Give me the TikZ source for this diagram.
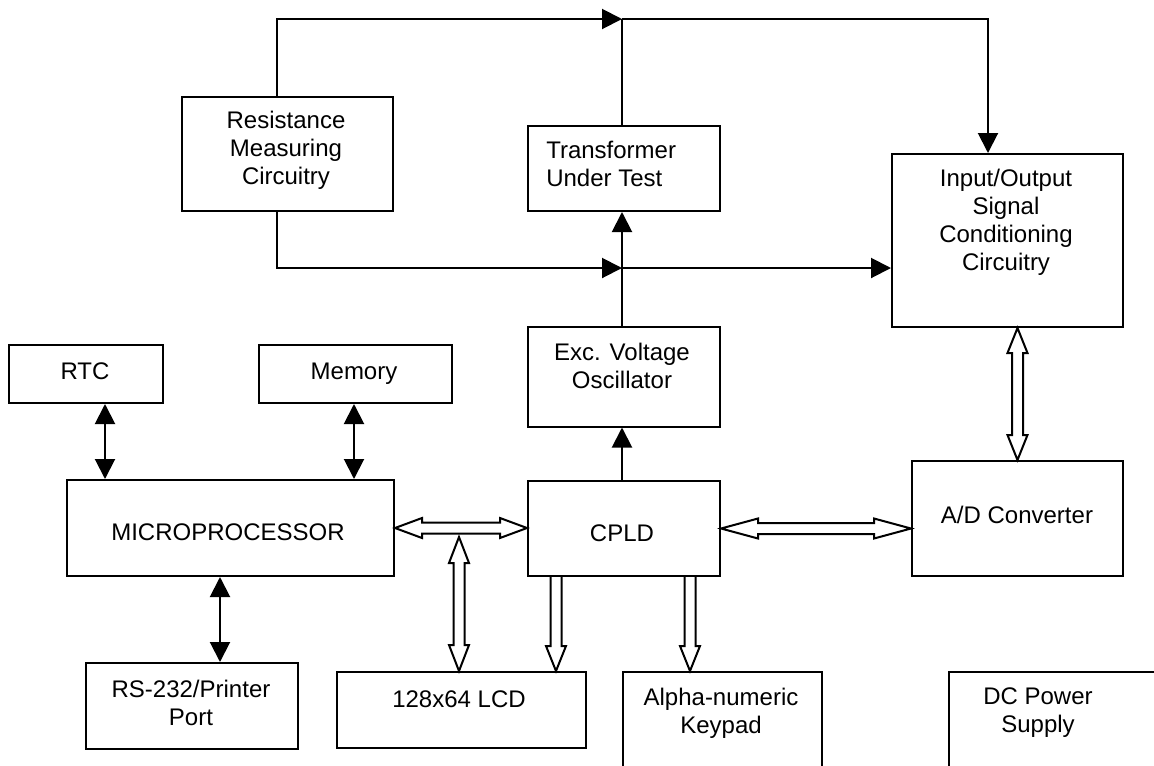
\documentclass[tikz,border=0pt]{standalone}
\usepackage{fontspec}
\setmainfont{Liberation Sans}
\usetikzlibrary{arrows.meta,calc}
\tikzset{
  box/.style={draw, line width=1.5pt, inner sep=0pt},
  txt/.style={inner sep=0pt, align=center, font=\fontsize{18pt}{21pt}\selectfont},
  line/.style={line width=1.5pt},
  arr/.style={line width=1.5pt, -{Triangle[length=15pt,width=15pt]}},
  darr/.style={line width=1.5pt, {Triangle[length=15pt,width=15pt]}-{Triangle[length=15pt,width=15pt]}},
  hol/.style={line width=1.5pt, fill=white, line join=miter}
}
\newcommand{\bbox}[5]{\node[box, minimum width=#4*0.75pt, minimum height=#5*0.75pt] (#1) at (#2,#3) {};}
% horizontal hollow double arrow: left tip, right tip, head length
\newcommand{\hdbl}[3]{\draw[hol] (#1) -- ++(#3,10) -- ++(0,-4.5) -- ($(#2)+(-#3,5.5)$) -- ++(0,4.5) -- (#2) -- ++(-#3,-10) -- ++(0,4.5) -- ($(#1)+(#3,-5.5)$) -- ++(0,-4.5) -- cycle;}
% vertical hollow double arrow: top tip, bottom tip, head length
\newcommand{\vdbl}[3]{\draw[hol] (#1) -- ++(10,#3) -- ++(-4.5,0) -- ($(#2)+(5.5,-#3)$) -- ++(4.5,0) -- (#2) -- ++(-10,-#3) -- ++(4.5,0) -- ($(#1)+(-5.5,#3)$) -- ++(-4.5,0) -- cycle;}
% vertical hollow single arrow downwards: start, tip, head length
\newcommand{\vsgl}[3]{\draw[hol] ($(#1)+(-5.5,0)$) -- ($(#2)+(-5.5,-#3)$) -- ++(-4.5,0) -- (#2) -- ++(10,-#3) -- ++(-4.5,0) -- ($(#1)+(5.5,0)$);}
\begin{document}
\begin{tikzpicture}[x=0.75pt, y=-0.75pt]
\clip (0,0) rectangle (1154,765);
\fill[white] (0,0) rectangle (1154,765);

% boxes
\bbox{res}{287.5}{154}{211}{114}
\bbox{trans}{624}{168.5}{192}{85}
\bbox{io}{1007.5}{240.5}{231}{173}
\bbox{exc}{624}{376.5}{192}{100}
\bbox{cpld}{624}{528.5}{192}{95}
\bbox{micro}{230.5}{528}{327}{96}
\bbox{rtc}{86}{374}{154}{58}
\bbox{mem}{355.5}{374}{193}{58}
\bbox{ad}{1017.5}{518.5}{211}{115}
\bbox{rs}{192}{706}{212}{86}
\bbox{lcd}{461.5}{710}{249}{76}
\bbox{key}{722.5}{736}{199}{128}
\bbox{dc}{1064.5}{736}{231}{128}

% texts
\node[txt] (res-t) at (286,150) {Resistance\\Measuring\\Circuitry};
\node[txt, anchor=west, align=left] (trans-t) at (546,164) {Transformer\\Under Test};
\node[txt] (io-t) at (1006,222) {Input/Output\\Signal\\Conditioning\\Circuitry};
\node[txt] (exc-t) at (622,366) {Exc. Voltage\\Oscillator};
\node[txt] (cpld-t) at (622,533) {CPLD};
\node[txt] (micro-t) at (228,532) {MICROPROCESSOR};
\node[txt] (rtc-t) at (85,371) {RTC};
\node[txt] (mem-t) at (354,374) {Memory};
\node[txt] (ad-t) at (1017,515) {A/D Converter};
\node[txt] (rs-t) at (191,703) {RS-232/Printer\\Port};
\node[txt] (lcd-t) at (459,699) {128x64 LCD};
\node[txt] (key-t) at (721,713) {Alpha-numeric\\Keypad};
\node[txt] (dc-t) at (1038,713) {DC Power\\Supply};

% helper coordinates
\coordinate (rl) at (277,0);
\coordinate (jt) at (622,19);
\coordinate (jb) at (622,268);
\coordinate (tr) at (988,19);
\coordinate (xrtc) at (105,0);
\coordinate (xmem) at (354,0);
\coordinate (xrs) at (220,0);
\coordinate (lcdb) at (459,537);
\coordinate (xlcd) at (556,0);
\coordinate (xkey) at (690,0);

% filled connectors
\draw[arr] (res.north -| rl) |- (jt);
\draw[line] (trans.north -| jt) -- (jt);
\draw[arr] (jt) -- (tr) -- (io.north -| tr);
\draw[arr] (res.south -| rl) |- (jb);
\draw[arr] (jb) -- (io.west |- jb);
\draw[arr] (exc.north -| jb) -- (trans.south -| jb);
\draw[arr] (cpld.north -| jb) -- (exc.south -| jb);
\draw[darr] (rtc.south -| xrtc) -- (micro.north -| xrtc);
\draw[darr] (mem.south -| xmem) -- (micro.north -| xmem);
\draw[darr] (micro.south -| xrs) -- (rs.north -| xrs);

% hollow bus arrows
\hdbl{micro.east}{cpld.west |- micro.east}{27}
\hdbl{cpld.east}{ad.west |- cpld.east}{37}
\vdbl{lcdb}{lcd.north -| lcdb}{26}
\vdbl{io.south -| ad.north}{ad.north}{25}
\vsgl{cpld.south -| xlcd}{lcd.north -| xlcd}{25}
\vsgl{cpld.south -| xkey}{key.north -| xkey}{25}
\end{tikzpicture}
\end{document}
